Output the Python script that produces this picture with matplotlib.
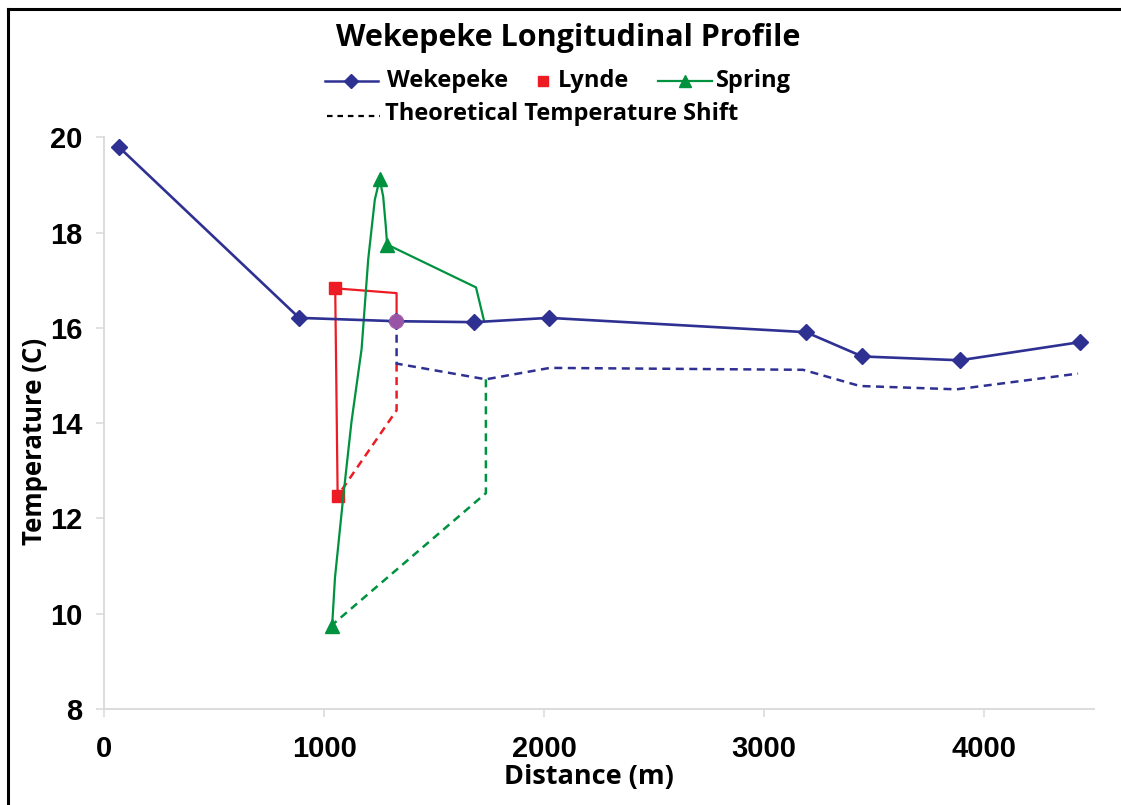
import matplotlib.pyplot as plt
from matplotlib.lines import Line2D

# --- data ---
wek_x = [68, 886, 1327, 1682, 2022, 3190, 3446, 3890, 4435]
wek_y = [19.79, 16.21, 16.14, 16.12, 16.21, 15.91, 15.40, 15.32, 15.70]

lynde_x = [1061, 1050, 1329, 1329]
lynde_y = [12.48, 16.83, 16.73, 16.14]

spring_x = [1036, 1049, 1086, 1124, 1170, 1200, 1230, 1252, 1268, 1280, 1286, 1690, 1727]
spring_y = [9.75, 10.76, 12.43, 14.03, 15.56, 17.44, 18.69, 19.12, 18.76, 18.13, 17.75, 16.85, 16.14]
spring_marks = [0, 7, 10]

shift_blue_x = [1329, 1329, 1735, 2026, 3177, 3435, 3875, 4427]
shift_blue_y = [16.14, 15.25, 14.92, 15.16, 15.12, 14.78, 14.71, 15.04]
shift_red_x = [1329, 1329, 1065]
shift_red_y = [15.25, 14.27, 12.50]
shift_green_x = [1735, 1735, 1040]
shift_green_y = [14.92, 12.53, 9.78]

confluence = (1327, 16.14)

x_ticks = [0, 1000, 2000, 3000, 4000]
y_ticks = [8, 10, 12, 14, 16, 18, 20]

BLUE = '#2E3192'
RED = '#ED1C24'
GREEN = '#00923F'
PURPLE = '#A45AA8'
GRAY = '#D9D9D9'
HEAD = 'Open Sans'
TICK = 'Liberation Sans'

fig = plt.figure(figsize=(11.21, 8.05), dpi=100)
ax = fig.add_axes([0.093, 0.1193, 0.883, 0.7101])

dash = (0, (3.2, 2.2))
ax.plot(shift_red_x, shift_red_y, color=RED, lw=1.8, ls=dash)
ax.plot(shift_green_x, shift_green_y, color=GREEN, lw=1.8, ls=dash)
ax.plot(shift_blue_x, shift_blue_y, color=BLUE, lw=1.8, ls=dash)

ax.plot(lynde_x, lynde_y, color=RED, lw=1.6, marker='s', ms=8.5, markevery=[0, 1])
ax.plot(spring_x, spring_y, color=GREEN, lw=1.6, marker='^', ms=9.5, markevery=spring_marks)
ax.plot(wek_x, wek_y, color=BLUE, lw=1.9, marker='D', ms=8.5)
ax.plot(*confluence, 'o', color=PURPLE, ms=11, alpha=0.9, mec='none')

ax.set_xlim(0, 4500)
ax.set_ylim(8, 20)
ax.set_xticks(x_ticks)
ax.set_yticks(y_ticks)
for s in ['top', 'right']:
    ax.spines[s].set_visible(False)
for s in ['left', 'bottom']:
    ax.spines[s].set_color(GRAY)
    ax.spines[s].set_linewidth(1.3)
ax.tick_params(axis='both', colors=GRAY, length=5.5, width=1.1, direction='out')
ax.tick_params(axis='x', pad=13)
ax.tick_params(axis='y', pad=10)
for lab in ax.get_xticklabels() + ax.get_yticklabels():
    lab.set_color('black')
    lab.set_fontfamily(TICK)
    lab.set_fontweight('bold')
    lab.set_fontsize(21)

# titles
fig.text(568 / 1121, 1 - 38 / 805, 'Wekepeke Longitudinal Profile', ha='center', va='center',
         fontfamily=HEAD, fontweight='bold', fontsize=22)
fig.text(589 / 1121, 1 - 777 / 805, 'Distance (m)', ha='center', va='center',
         fontfamily=HEAD, fontweight='bold', fontsize=19.5)
fig.text(35 / 1121, 1 - 441 / 805, 'Temperature (C)', ha='center', va='center', rotation=90,
         fontfamily=HEAD, fontweight='bold', fontsize=18.5)

# manual legend (pixel positions from the reference)
def fx(px):
    return px / 1121


def fy(py):
    return 1 - py / 805


leg_font = dict(fontfamily=HEAD, fontweight='bold', fontsize=17, va='center', ha='left')
r1, r2 = 81, 116
fig.add_artist(Line2D([fx(325), fx(378)], [fy(r1), fy(r1)], color=BLUE, lw=1.8))
fig.add_artist(Line2D([fx(351)], [fy(r1)], color=BLUE, marker='D', ms=7.5))
fig.text(fx(387), fy(r1), 'Wekepeke', **leg_font)
fig.add_artist(Line2D([fx(543)], [fy(r1)], color=RED, marker='s', ms=7.5))
fig.text(fx(558), fy(r1), 'Lynde', **leg_font)
fig.add_artist(Line2D([fx(658), fx(712)], [fy(r1), fy(r1)], color=GREEN, lw=1.6))
fig.add_artist(Line2D([fx(685)], [fy(r1)], color=GREEN, marker='^', ms=8.5))
fig.text(fx(716), fy(r1), 'Spring', **leg_font)
fig.add_artist(Line2D([fx(327), fx(380)], [fy(r2), fy(r2)], color='black', lw=1.6,
                      ls=(0, (2.5, 2.2))))
fig.text(fx(385), fy(r2 - 2), 'Theoretical Temperature Shift', **leg_font)

# black frame lines on the left and top edges
fig.add_artist(Line2D([fx(8), fx(8)], [0, fy(9)], color='black', lw=2.2))
fig.add_artist(Line2D([fx(8), 1], [fy(9), fy(9)], color='black', lw=2.2))

fig.savefig('out.png', dpi=100)
